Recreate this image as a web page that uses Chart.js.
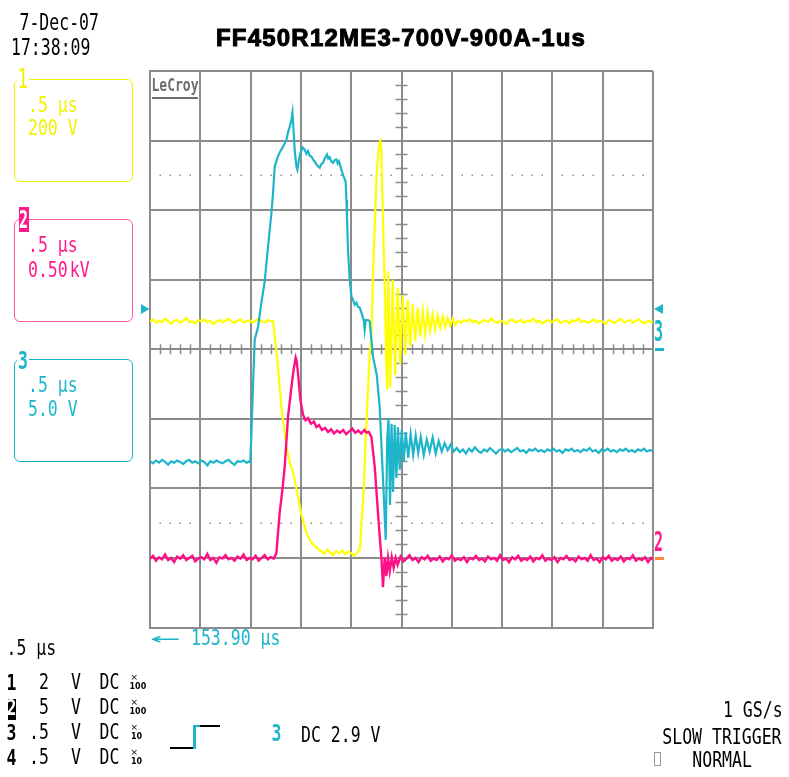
<!DOCTYPE html>
<html>
<head>
<meta charset="utf-8">
<script src="https://cdn.jsdelivr.net/npm/chart.js@4.4.1/dist/chart.umd.min.js"></script>
<style>
  body { margin: 0; background: #fff; width: 789px; height: 777px; overflow: hidden; position: relative; }
  #scope { position: absolute; left: 0; top: 0; }
  .s { position: absolute; font-family: "DejaVu Sans Mono", monospace; font-size: 16.5px; line-height: 1; white-space: pre;
       transform: scaleY(1.25); transform-origin: 0 0; color: #000; }
  .tall { transform: scaleY(1.35); }
  .b { font-weight: bold; transform: scaleY(1.3); }
  .box { position: absolute; border: 1.5px solid; border-radius: 6px; box-sizing: border-box; }
  .tiny { position: absolute; font-family: "DejaVu Sans", sans-serif; font-size: 8px; line-height: 1; font-weight: bold; }
  .line { position: absolute; }
  #title { position: absolute; left: 216px; top: 26px; font-family: "Liberation Sans", Arial, sans-serif; font-weight: bold;
           font-size: 24px; line-height: 1; letter-spacing: 1.2px; -webkit-text-stroke: 1px #000; white-space: pre; }
</style>
</head>
<body>
<canvas id="scope" width="789" height="777"></canvas>

<div class="s tall" style="left:19.5px; top:12.4px;">7-Dec-07</div>
<div class="s tall" style="left:11px; top:37.4px;">17:38:09</div>
<div id="title">FF450R12ME3-700V-900A-1us</div>

<!-- LeCroy logo -->
<div class="s" style="left:151.5px; top:76.2px; font-size:13px; font-weight:bold; color:#6e6e6e; transform:scaleY(1.4);">LeCroy</div>
<div class="line" style="left:152px; top:96.5px; width:46px; height:2.5px; background:#6e6e6e;"></div>

<!-- channel boxes -->
<div class="box" style="left:14px; top:79px; width:119px; height:103px; border-color:#f2f200;"></div>
<div class="s" style="left:16.5px; top:66.5px; font-size:17.5px; color:#f2f200; background:#fff; padding:0 1px; transform:scaleY(1.5);">1</div>
<div class="s" style="left:28px; top:96px; color:#f2f200;">.5 µs</div>
<div class="s" style="left:28px; top:119.3px; color:#f2f200;">200 V</div>

<div class="box" style="left:14px; top:219px; width:119px; height:103px; border-color:#ff5a9e;"></div>
<div class="line" style="left:19px; top:207px; width:10px; height:25px; background:#ff1a8c;"></div>
<div class="s b" style="left:19px; top:207.5px; color:#fff; font-size:15px; transform:scaleY(1.65);">2</div>
<div class="s" style="left:28px; top:236px; color:#ff1a8c;">.5 µs</div>
<div class="s" style="left:28px; top:261px; color:#ff1a8c;">0.50<span style="margin-left:2px">kV</span></div>

<div class="box" style="left:14px; top:359px; width:119px; height:103px; border-color:#1cb5c9;"></div>
<div class="s b" style="left:17px; top:349px; color:#1cb5c9; background:#fff; padding:0 1px; transform:scaleY(1.5);">3</div>
<div class="s" style="left:28px; top:376px; color:#1cb5c9;">.5 µs</div>
<div class="s" style="left:28px; top:399.5px; color:#1cb5c9;">5.0 V</div>

<!-- right-hand channel markers -->
<div class="s b" style="left:654px; top:318.4px; font-size:15px; color:#1cb5c9; transform:scaleY(1.9);">3</div>
<div class="line" style="left:655px; top:348px; width:8.5px; height:2.5px; background:#1cb5c9;"></div>
<div class="s b" style="left:654px; top:530px; font-size:15px; color:#ff1a8c; transform:scaleY(1.75);">2</div>
<div class="line" style="left:655px; top:557px; width:8.5px; height:2.5px; background:#ff8a3d;"></div>

<!-- trigger delay -->
<div class="s" style="left:150px; top:629.3px; color:#1cb5c9; transform:scale(3,1.25);">←</div>
<div class="s" style="left:191px; top:629.3px; color:#1cb5c9;">153.90 µs</div>

<!-- timebase and channel summary -->
<div class="s" style="left:6.5px; top:639.3px;">.5 µs</div>

<div class="s b" style="left:6.5px; top:672.5px;">1</div>
<div class="s" style="left:39px; top:672.6px;">2</div>
<div class="s" style="left:71px; top:672.6px;">V</div>
<div class="s" style="left:99.5px; top:672.6px;">DC</div>
<div class="tiny" style="left:130.5px; top:673px; font-size:9px; font-weight:normal;">×</div>
<div class="tiny" style="left:129.5px; top:683px;">100</div>

<div class="line" style="left:7.5px; top:699px; width:8.5px; height:21px; background:#000;"></div>
<div class="s b" style="left:6.5px; top:697.5px; color:#fff;">2</div>
<div class="s" style="left:39px; top:697.6px;">5</div>
<div class="s" style="left:71px; top:697.6px;">V</div>
<div class="s" style="left:99.5px; top:697.6px;">DC</div>
<div class="tiny" style="left:130.5px; top:698px; font-size:9px; font-weight:normal;">×</div>
<div class="tiny" style="left:129.5px; top:708px;">100</div>

<div class="s b" style="left:6.5px; top:722.5px;">3</div>
<div class="s" style="left:29px; top:722.6px;">.5</div>
<div class="s" style="left:71px; top:722.6px;">V</div>
<div class="s" style="left:99.5px; top:722.6px;">DC</div>
<div class="tiny" style="left:130.5px; top:723px; font-size:9px; font-weight:normal;">×</div>
<div class="tiny" style="left:131px; top:733px;">10</div>

<div class="s b" style="left:6.5px; top:747.5px;">4</div>
<div class="s" style="left:29px; top:747.6px;">.5</div>
<div class="s" style="left:71px; top:747.6px;">V</div>
<div class="s" style="left:99.5px; top:747.6px;">DC</div>
<div class="tiny" style="left:130.5px; top:748px; font-size:9px; font-weight:normal;">×</div>
<div class="tiny" style="left:131px; top:758px;">10</div>

<!-- trigger edge symbol -->
<div class="line" style="left:170px; top:746.5px; width:23px; height:2px; background:#000;"></div>
<div class="line" style="left:193px; top:725px; width:2.5px; height:23.5px; background:#1cb5c9;"></div>
<div class="line" style="left:195px; top:725px; width:5px; height:2px; background:#1cb5c9;"></div>
<div class="line" style="left:200px; top:725px; width:20px; height:2px; background:#000;"></div>
<div class="s b" style="left:271.5px; top:723px; color:#1cb5c9; transform:scaleY(1.4);">3</div>
<div class="s" style="left:301px; top:725.6px;">DC 2.9 V</div>

<!-- acquisition status -->
<div class="s" style="left:723px; top:701px;">1 GS/s</div>
<div class="s" style="left:662.3px; top:727.6px;">SLOW TRIGGER</div>
<div class="line" style="left:653.5px; top:752px; width:7px; height:14px; border:1px solid #999; box-sizing:border-box;"></div>
<div class="s" style="left:692.3px; top:751px;">NORMAL</div>

<script>
/****************************************************
 * SCOPE DATA - time in µs, amplitude in screen divisions
 ***************************************************/

const timePerDiv = 0.5;     // .5 µs / div
const divsAcross = 10;
const divsHigh = 8;
const ch3VoltsPerDiv = 5.0;
const trigLevelVolts = 2.9; // "3 DC 2.9 V"

// Channel 1 (yellow, 200 V/div)
const ch1Trace = [
    [0,0.40],[0.03,0.43],[0.06,0.38],[0.09,0.41],[0.12,0.39],[0.15,0.44],[0.18,0.40],[0.21,0.37],[0.24,0.41],[0.27,0.42],
    [0.30,0.38],[0.33,0.41],[0.36,0.45],[0.39,0.39],[0.42,0.40],[0.45,0.37],[0.48,0.42],[0.51,0.40],[0.54,0.43],[0.57,0.39],
    [0.60,0.41],[0.63,0.36],[0.66,0.40],[0.69,0.42],[0.72,0.39],[0.75,0.41],[0.78,0.44],[0.81,0.40],[0.84,0.38],[0.87,0.41],
    [0.90,0.43],[0.93,0.39],[0.96,0.40],[0.99,0.42],[1.02,0.38],[1.05,0.41],[1.08,0.44],[1.11,0.40],[1.14,0.39],[1.17,0.42],
    [1.20,0.40],[1.223,0.40],[1.256,-0.01],[1.306,-0.83],[1.356,-1.40],[1.389,-1.63],[1.421,-1.76],[1.471,-2.12],[1.505,-2.38],
    [1.555,-2.64],[1.604,-2.78],[1.670,-2.87],[1.70,-2.90],[1.73,-2.94],[1.76,-2.88],[1.79,-2.92],[1.82,-2.96],[1.85,-2.90],
    [1.88,-2.93],[1.91,-2.89],[1.94,-2.95],[1.97,-2.91],[2.00,-2.93],[2.03,-2.97],[2.06,-2.92],[2.085,-2.88],[2.101,-2.55],
    [2.124,-2.02],[2.144,-1.30],[2.167,-0.58],[2.184,-0.05],[2.201,0.18],[2.217,1.10],[2.234,1.76],[2.250,2.44],[2.266,2.77],
    [2.283,2.98],[2.290,3.00],[2.300,2.87],[2.310,2.19],[2.323,1.47],[2.336,0.76],[2.348,-0.15],[2.358,-0.58],
    [2.368,1.12],[2.388,-0.55],[2.413,1.00],[2.437,-0.37],[2.462,0.88],[2.487,-0.22],[2.512,0.78],[2.537,-0.08],[2.562,0.71],
    [2.587,0.04],[2.611,0.65],[2.636,0.12],[2.661,0.60],[2.686,0.18],[2.711,0.55],[2.736,0.22],[2.760,0.53],[2.785,0.27],
    [2.810,0.50],[2.835,0.29],[2.860,0.48],[2.885,0.31],[2.910,0.47],[2.934,0.32],[2.959,0.45],[2.984,0.34],[3.009,0.44],
    [3.034,0.35],[3.06,0.41],[3.09,0.38],[3.12,0.42],[3.15,0.40],[3.18,0.43],[3.21,0.39],[3.24,0.41],[3.27,0.37],[3.30,0.40],
    [3.33,0.42],[3.36,0.39],[3.39,0.44],[3.42,0.40],[3.45,0.38],[3.48,0.41],[3.51,0.40],[3.54,0.36],[3.57,0.41],[3.60,0.43],
    [3.63,0.39],[3.66,0.40],[3.69,0.42],[3.72,0.38],[3.75,0.41],[3.78,0.40],[3.81,0.44],[3.84,0.39],[3.87,0.41],[3.90,0.37],
    [3.93,0.40],[3.96,0.42],[3.99,0.39],[4.02,0.41],[4.05,0.43],[4.08,0.38],[4.11,0.40],[4.14,0.41],[4.17,0.37],[4.20,0.42],
    [4.23,0.40],[4.26,0.44],[4.29,0.39],[4.32,0.41],[4.35,0.38],[4.38,0.40],[4.41,0.43],[4.44,0.39],[4.47,0.41],[4.50,0.40],
    [4.53,0.36],[4.56,0.42],[4.59,0.40],[4.62,0.38],[4.65,0.41],[4.68,0.44],[4.71,0.39],[4.74,0.40],[4.77,0.42],[4.80,0.38],
    [4.83,0.41],[4.86,0.43],[4.89,0.39],[4.92,0.37],[4.95,0.41],[4.98,0.39],[5.00,0.40]
];

// Channel 2 (magenta, 0.50 kV/div, ground at -3 div)
const ch2Trace = [
    [0,-3.01],[0.03,-2.97],[0.06,-3.04],[0.09,-2.99],[0.12,-3.02],[0.15,-2.95],[0.18,-3.03],[0.21,-3.00],[0.24,-3.06],[0.27,-2.98],
    [0.30,-3.01],[0.33,-2.96],[0.36,-3.03],[0.39,-3.00],[0.42,-2.97],[0.45,-3.05],[0.48,-3.01],[0.51,-2.99],[0.54,-3.02],[0.57,-2.94],
    [0.60,-3.03],[0.63,-3.00],[0.66,-3.07],[0.69,-2.99],[0.72,-3.01],[0.75,-2.96],[0.78,-3.02],[0.81,-3.00],[0.84,-3.04],[0.87,-2.98],
    [0.90,-3.01],[0.93,-2.95],[0.96,-3.03],[0.99,-3.00],[1.02,-3.02],[1.05,-2.97],[1.08,-3.04],[1.11,-3.00],[1.14,-2.96],[1.17,-3.02],
    [1.20,-2.99],[1.23,-3.01],[1.256,-2.93],[1.289,-2.35],[1.316,-2.02],[1.339,-1.69],[1.372,-0.97],[1.406,-0.54],[1.428,-0.29],
    [1.448,-0.12],[1.458,-0.17],[1.471,-0.34],[1.495,-0.73],[1.521,-0.94],[1.546,-1.02],[1.571,-0.99],[1.60,-1.07],[1.63,-1.04],
    [1.654,-1.12],[1.68,-1.09],[1.71,-1.16],[1.74,-1.13],[1.77,-1.19],[1.80,-1.15],[1.83,-1.21],[1.86,-1.17],[1.89,-1.20],
    [1.92,-1.16],[1.95,-1.22],[1.98,-1.18],[2.01,-1.14],[2.04,-1.20],[2.07,-1.17],[2.10,-1.21],[2.13,-1.16],[2.151,-1.20],
    [2.175,-1.19],[2.201,-1.26],[2.234,-1.69],[2.250,-2.02],[2.276,-2.55],[2.300,-2.99],[2.316,-3.42],[2.333,-2.99],[2.350,-3.26],
    [2.366,-3.00],[2.383,-3.19],[2.403,-2.99],[2.422,-3.14],[2.442,-3.00],[2.462,-3.10],
    [2.49,-2.98],[2.52,-3.05],[2.55,-3.01],[2.58,-2.96],[2.61,-3.03],[2.64,-3.00],[2.67,-3.06],[2.70,-2.99],[2.73,-3.02],[2.76,-2.97],
    [2.79,-3.04],[2.82,-3.01],[2.85,-3.03],[2.88,-2.98],[2.91,-3.05],[2.94,-3.00],[2.97,-3.02],[3.00,-2.96],[3.03,-3.04],[3.06,-3.01],
    [3.09,-3.03],[3.12,-2.99],[3.15,-3.06],[3.18,-3.00],[3.21,-3.02],[3.24,-2.97],[3.27,-3.03],[3.30,-3.01],[3.33,-3.05],[3.36,-2.98],
    [3.39,-3.02],[3.42,-3.00],[3.45,-3.04],[3.48,-2.96],[3.51,-3.03],[3.54,-3.01],[3.57,-3.06],[3.60,-2.99],[3.63,-3.02],[3.66,-2.97],
    [3.69,-3.04],[3.72,-3.01],[3.75,-3.03],[3.78,-2.98],[3.81,-3.05],[3.84,-3.00],[3.87,-3.02],[3.90,-2.96],[3.93,-3.04],[3.96,-3.01],
    [3.99,-3.03],[4.02,-2.99],[4.05,-3.06],[4.08,-3.00],[4.11,-3.02],[4.14,-2.97],[4.17,-3.03],[4.20,-3.01],[4.23,-3.05],[4.26,-2.98],
    [4.29,-3.02],[4.32,-3.00],[4.35,-3.04],[4.38,-2.96],[4.41,-3.03],[4.44,-3.01],[4.47,-3.06],[4.50,-2.99],[4.53,-3.02],[4.56,-2.97],
    [4.59,-3.04],[4.62,-3.01],[4.65,-3.03],[4.68,-2.98],[4.71,-3.05],[4.74,-3.00],[4.77,-3.02],[4.80,-2.96],[4.83,-3.04],[4.86,-3.01],
    [4.89,-3.03],[4.92,-2.99],[4.95,-3.06],[4.98,-3.00],[5.00,-3.02]
];

// Channel 3 (cyan, 5.0 V/div, ground at centre line)
const ch3Trace = [
    [0,-1.61],[0.03,-1.64],[0.06,-1.60],[0.09,-1.63],[0.12,-1.59],[0.15,-1.62],[0.18,-1.66],[0.21,-1.61],[0.24,-1.63],[0.27,-1.60],
    [0.30,-1.62],[0.33,-1.65],[0.36,-1.61],[0.39,-1.59],[0.42,-1.63],[0.45,-1.61],[0.48,-1.64],[0.51,-1.60],[0.54,-1.62],[0.57,-1.67],
    [0.60,-1.61],[0.63,-1.63],[0.66,-1.60],[0.69,-1.62],[0.72,-1.64],[0.75,-1.61],[0.78,-1.59],[0.81,-1.63],[0.84,-1.66],[0.87,-1.61],
    [0.90,-1.62],[0.93,-1.60],[0.96,-1.63],[0.99,-1.61],[0.996,-1.62],[1.006,-1.30],[1.021,-0.65],[1.041,0.14],[1.074,0.32],
    [1.107,0.67],[1.140,0.97],[1.173,1.47],[1.207,1.96],[1.223,2.25],[1.240,2.63],[1.256,2.70],[1.272,2.77],[1.289,2.83],
    [1.322,2.91],[1.356,3.01],[1.372,3.12],[1.389,3.20],[1.406,3.30],[1.416,3.40],[1.428,3.12],[1.438,2.87],[1.455,2.63],
    [1.465,2.58],[1.481,2.73],[1.498,2.83],[1.518,2.90],[1.538,2.87],[1.555,2.81],[1.571,2.85],[1.588,2.78],[1.604,2.77],
    [1.620,2.73],[1.637,2.70],[1.653,2.66],[1.670,2.63],[1.687,2.61],[1.703,2.66],[1.720,2.68],[1.740,2.75],[1.759,2.80],
    [1.772,2.74],[1.786,2.76],[1.802,2.70],[1.819,2.68],[1.836,2.72],[1.853,2.73],[1.866,2.67],[1.879,2.70],[1.903,2.58],
    [1.925,2.48],[1.945,2.41],[1.952,2.15],[1.958,1.91],[1.968,1.43],[1.985,1.00],[2.002,0.76],[2.018,0.71],[2.035,0.64],
    [2.052,0.67],[2.068,0.61],[2.084,0.60],[2.101,0.53],[2.124,0.42],[2.134,0.28],[2.144,0.42],[2.167,0.42],[2.184,0.40],
    [2.201,0.14],[2.217,-0.11],[2.254,-0.37],[2.283,-0.83],[2.306,-1.55],[2.326,-2.17],[2.343,-2.74],[2.358,-1.30],[2.371,-0.99],
    [2.386,-2.24],[2.401,-1.07],[2.416,-2.05],[2.432,-1.09],[2.449,-1.85],[2.465,-1.12],[2.482,-1.73],[2.502,-1.16],[2.522,-1.62],
    [2.542,-1.19],[2.567,-1.56],[2.591,-1.22],[2.616,-1.52],[2.641,-1.24],[2.666,-1.49],[2.691,-1.26],[2.721,-1.52],[2.751,-1.30],
    [2.780,-1.47],[2.810,-1.27],[2.840,-1.50],[2.870,-1.32],[2.900,-1.47],[2.929,-1.35],[2.959,-1.45],[2.989,-1.37],[3.019,-1.47],
    [3.05,-1.42],[3.08,-1.48],[3.11,-1.44],[3.14,-1.50],[3.17,-1.43],[3.20,-1.47],[3.23,-1.41],[3.26,-1.46],[3.29,-1.49],[3.32,-1.44],
    [3.35,-1.47],[3.38,-1.42],[3.41,-1.46],[3.44,-1.50],[3.47,-1.45],[3.50,-1.43],[3.53,-1.47],[3.56,-1.44],[3.59,-1.48],[3.62,-1.45],
    [3.65,-1.42],[3.68,-1.47],[3.71,-1.45],[3.74,-1.49],[3.77,-1.44],[3.80,-1.46],[3.83,-1.43],[3.86,-1.47],[3.89,-1.45],[3.92,-1.48],
    [3.95,-1.44],[3.98,-1.46],[4.01,-1.43],[4.04,-1.47],[4.07,-1.45],[4.10,-1.49],[4.13,-1.44],[4.16,-1.46],[4.19,-1.43],[4.22,-1.47],
    [4.25,-1.45],[4.28,-1.48],[4.31,-1.44],[4.34,-1.46],[4.37,-1.42],[4.40,-1.47],[4.43,-1.45],[4.46,-1.49],[4.49,-1.44],[4.52,-1.46],
    [4.55,-1.43],[4.58,-1.47],[4.61,-1.45],[4.64,-1.48],[4.67,-1.44],[4.70,-1.46],[4.73,-1.43],[4.76,-1.47],[4.79,-1.45],[4.82,-1.48],
    [4.85,-1.44],[4.88,-1.46],[4.91,-1.43],[4.94,-1.47],[4.97,-1.45],[5.00,-1.46]
];

const yellow = '#ffff00';
const magenta = '#ff0f87';
const cyan = '#1cb5c9';
const gridColour = '#8c8c8c';

/*******************
 * GRATICULE - CENTRE TICKS, DOTTED LINES, TRIGGER MARKERS
 ******************/

const graticule = {
    id: 'graticule',
    beforeDatasetsDraw(chart) {
        const ctx = chart.ctx;
        const x = chart.scales.x;
        const y = chart.scales.y;
        const xMid = x.getPixelForValue(divsAcross * timePerDiv / 2);
        const yMid = y.getPixelForValue(0);

        ctx.save();
        ctx.strokeStyle = gridColour;
        ctx.fillStyle = gridColour;
        ctx.lineWidth = 1.5;
        ctx.beginPath();
        // 5 minor ticks per division on the centre lines
        for (let i = 1; i < divsAcross * 5; i++) {
            if (i % 5 === 0) continue;
            const px = Math.round(x.getPixelForValue(i * timePerDiv / 5)) + 0.5;
            ctx.moveTo(px, yMid - 5);
            ctx.lineTo(px, yMid + 5);
        }
        for (let j = 1; j < divsHigh * 5; j++) {
            if (j % 5 === 0) continue;
            const py = Math.round(y.getPixelForValue(-divsHigh / 2 + j / 5)) + 0.5;
            ctx.moveTo(xMid - 6, py);
            ctx.lineTo(xMid + 6, py);
        }
        ctx.stroke();

        // dotted lines at +/- 2.5 div
        for (const level of [2.5, -2.5]) {
            const py = y.getPixelForValue(level);
            for (let i = 1; i < divsAcross * 5; i++) {
                if (i % 5 === 0) continue;
                const px = x.getPixelForValue(i * timePerDiv / 5);
                ctx.fillRect(Math.round(px) - 0.5, Math.round(py) - 0.5, 1.5, 1.5);
            }
        }
        ctx.restore();
    },
    afterDraw(chart) {
        const ctx = chart.ctx;
        const area = chart.chartArea;
        const py = chart.scales.y.getPixelForValue(trigLevelVolts / ch3VoltsPerDiv);

        ctx.save();
        ctx.fillStyle = cyan;
        ctx.beginPath();
        ctx.moveTo(area.left - 0.5, py);
        ctx.lineTo(area.left - 9, py - 5);
        ctx.lineTo(area.left - 9, py + 5);
        ctx.closePath();
        ctx.fill();
        ctx.beginPath();
        ctx.moveTo(area.right + 1, py);
        ctx.lineTo(area.right + 10, py - 5);
        ctx.lineTo(area.right + 10, py + 5);
        ctx.closePath();
        ctx.fill();
        ctx.restore();
    }
};

/*******************
 * CHART
 ******************/

const ctx = document.getElementById('scope');
const scopeChart = new Chart(ctx, {
    type: 'line',
    data: {
        datasets: [
            { label: 'Ch3', data: ch3Trace, borderColor: cyan, borderWidth: 2.2 },
            { label: 'Ch2', data: ch2Trace, borderColor: magenta, borderWidth: 2.4 },
            { label: 'Ch1', data: ch1Trace, borderColor: yellow, borderWidth: 2.2 },
        ]
    },
    options: {
        responsive: false,
        animation: false,
        layout: {
            padding: { left: 150, top: 71, right: 136, bottom: 149.5 }
        },
        elements: {
            point: { radius: 0 },
            line: { tension: 0, borderJoinStyle: 'miter' }
        },
        plugins: {
            legend: { display: false },
            tooltip: { enabled: false }
        },
        scales: {
            x: {
                type: 'linear',
                min: 0,
                max: divsAcross * timePerDiv,
                ticks: { display: false, stepSize: timePerDiv },
                grid: { color: gridColour, lineWidth: 2, drawTicks: false },
                border: { color: gridColour, width: 2 }
            },
            y: {
                type: 'linear',
                min: -divsHigh / 2,
                max: divsHigh / 2,
                ticks: { display: false, stepSize: 1 },
                grid: { color: gridColour, lineWidth: 2, drawTicks: false },
                border: { color: gridColour, width: 2 }
            }
        }
    },
    plugins: [graticule]
});
</script>
</body>
</html>
